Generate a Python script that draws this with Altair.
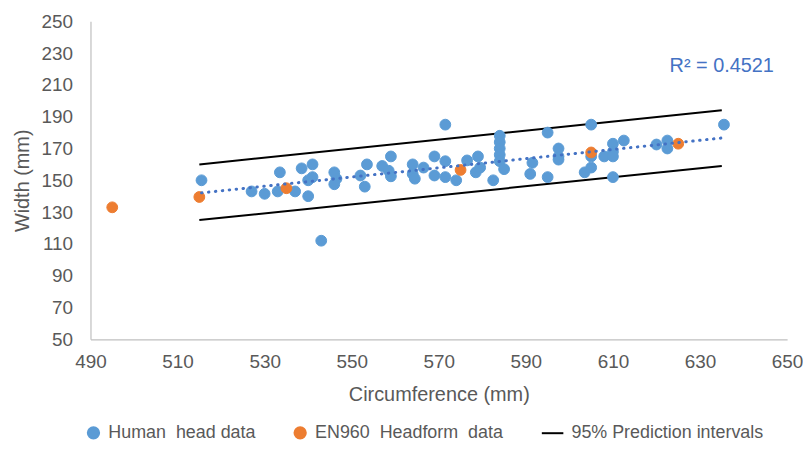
import altair as alt
import pandas as pd

# ---- data ----
human_circ = [515.5, 527, 530, 533, 533.5, 537, 538.5, 541, 541, 540, 540, 543,
              546, 546.5, 546, 552, 553.5, 553, 557, 559, 559, 558.5,
              564, 564, 564.5, 566.5, 569, 569, 571.5, 571.5, 571.5, 574,
              576.5, 579, 578.5, 579.5, 582.5, 584, 584, 584, 584, 584, 585,
              591.5, 591, 595, 595, 597.5, 597.5, 597.5,
              605, 603.5, 605, 605, 608, 610, 610, 610, 610, 612.5,
              620, 622.5, 622.5, 635.5]
human_width = [150, 143, 141.5, 143, 155, 143, 157.5, 160, 152, 150, 140, 112,
               155, 151, 147.5, 153, 160, 146, 159, 165, 152.5, 156,
               160, 154, 151, 158, 165, 153, 162, 152, 185, 150,
               162.5, 165, 155, 158, 150, 178, 174, 170, 166, 162, 157,
               161, 154, 180, 152, 170, 165, 163,
               185, 155, 158, 165, 165, 173, 168, 165, 152, 175,
               172.5, 175, 170, 185]
en960_circ = [495, 515, 535, 575, 605, 625]
en960_width = [133, 139.5, 145, 156.5, 167.5, 173]

pi_circ = [515, 635]
pi_upper = [160, 194]
pi_lower = [125, 159]

x_ticks = [490, 510, 530, 550, 570, 590, 610, 630, 650]
y_ticks = [50, 70, 90, 110, 130, 150, 170, 190, 210, 230, 250]

series_names = ["Human\u00a0 head data", "EN960\u00a0 Headform\u00a0 data", "95% Prediction intervals"]
r2_label = "R\u00b2 = 0.4521"
r2_circ = [623]
r2_width = [222]

BLUE = "#5B9BD5"
ORANGE = "#ED7D31"
TREND = "#4472C4"
GREY_TXT = "#595959"
FONT = "Liberation Sans"

pts = pd.DataFrame({
    "circ": human_circ + en960_circ,
    "width": human_width + en960_width,
    "series": [series_names[0]] * len(human_circ) + [series_names[1]] * len(en960_circ),
    "ord": [0] * len(human_circ) + [1] * len(en960_circ),
})
pi = pd.DataFrame({
    "circ": pi_circ + pi_circ,
    "width": pi_upper + pi_lower,
    "bound": ["upper"] * len(pi_circ) + ["lower"] * len(pi_circ),
})
r2 = pd.DataFrame({"circ": r2_circ, "width": r2_width, "label": [r2_label]})

x_enc = alt.X("circ:Q",
              scale=alt.Scale(domain=[490, 650], nice=False, zero=False),
              axis=alt.Axis(values=x_ticks, title="Circumference (mm)", grid=False,
                            ticks=False, tickSize=0, labelPadding=13, titlePadding=14,
                            domainColor="#BFBFBF", domainWidth=1.2,
                            labelFontSize=19, titleFontSize=20,
                            labelColor=GREY_TXT, titleColor=GREY_TXT,
                            labelFont=FONT, titleFont=FONT, titleFontWeight="normal",
                            labelFlush=False))
y_enc = alt.Y("width:Q",
              scale=alt.Scale(domain=[50, 250], nice=False, zero=False),
              axis=alt.Axis(values=y_ticks, title="Width (mm)", grid=False,
                            ticks=False, tickSize=0, labelPadding=18, titlePadding=9,
                            domainColor="#BFBFBF", domainWidth=1.2,
                            labelFontSize=19, titleFontSize=20,
                            labelColor=GREY_TXT, titleColor=GREY_TXT,
                            labelFont=FONT, titleFont=FONT, titleFontWeight="normal",
                            labelFlush=False))

leg = alt.Legend(title=None, orient="none", legendX=-6, legendY=405,
                 direction="horizontal", symbolSize=130, symbolStrokeWidth=2,
                 labelFontSize=18, labelColor=GREY_TXT, labelFont=FONT,
                 labelOffset=6, columnPadding=34, labelLimit=400)

pi_layer = alt.Chart(pi).mark_line(color="black", strokeWidth=2).encode(
    x=x_enc, y=y_enc, detail="bound:N")

pt_layer = alt.Chart(pts).mark_point(filled=True, size=118, opacity=1, strokeWidth=1).encode(
    x=x_enc, y=y_enc,
    fill=alt.Fill("series:N", scale=alt.Scale(domain=series_names, range=[BLUE, ORANGE, "transparent"]), legend=leg),
    stroke=alt.Stroke("series:N", scale=alt.Scale(domain=series_names, range=[BLUE, ORANGE, "black"]), legend=leg),
    shape=alt.Shape("series:N", scale=alt.Scale(domain=series_names, range=["circle", "circle", "M-2.6,0H1.2"]), legend=leg),
    order=alt.Order("ord:Q"),
)

trend_layer = alt.Chart(pts).transform_filter(
    alt.datum.series == series_names[0]
).transform_regression("circ", "width", method="linear").mark_line(
    color=TREND, strokeWidth=3, strokeDash=[0.5, 6.5], strokeCap="round"
).encode(x=x_enc, y=y_enc)

r2_layer = alt.Chart(r2).mark_text(align="left", baseline="middle", fontSize=20,
                                   color=TREND, font=FONT).encode(
    x=x_enc, y=y_enc, text="label:N")

chart = alt.layer(pi_layer, pt_layer, trend_layer, r2_layer).properties(
    width=701, height=320,
    autosize=alt.AutoSizeParams(type="none"),
    padding={"left": 83, "top": 12, "right": 16, "bottom": 105},
).configure_view(strokeWidth=0)

chart.save("out.html", embed_options={"renderer": "svg", "actions": False})
